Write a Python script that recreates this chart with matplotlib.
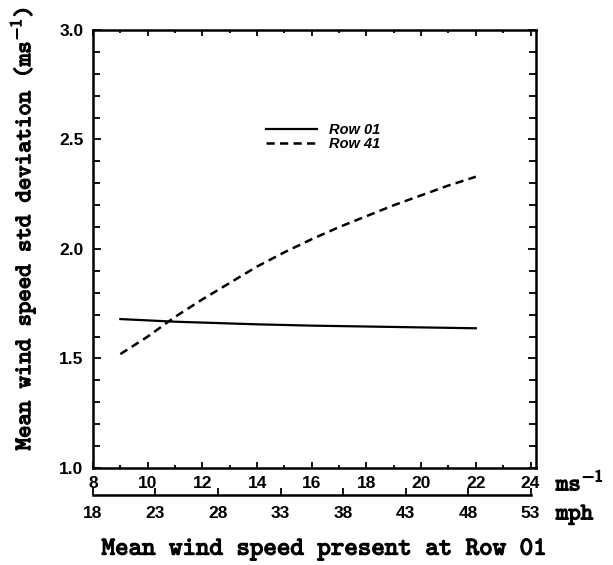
import matplotlib
matplotlib.use("Agg")
import matplotlib.pyplot as plt
import matplotlib.patheffects as pe
from matplotlib.ticker import MultipleLocator, FixedLocator
import numpy as np

# mean wind speed at Row 01 (m/s)
wind_ms = [9, 10, 11, 12, 13, 14, 15, 16, 17, 18, 19, 20, 21, 22]
# std deviation of wind speed (m/s)
row01 = [1.68, 1.674, 1.668, 1.664, 1.660, 1.656, 1.653, 1.650, 1.648,
         1.646, 1.644, 1.642, 1.640, 1.638]
row41 = [1.52, 1.60, 1.69, 1.77, 1.845, 1.92, 1.985, 2.045, 2.10,
         2.15, 2.20, 2.245, 2.29, 2.33]
mph_ticks = [18, 23, 28, 33, 38, 43, 48, 53]
ms_ticks = [8, 10, 12, 14, 16, 18, 20, 22, 24]

plt.rcParams["mathtext.fontset"] = "cm"

bold = [pe.withStroke(linewidth=0.9, foreground="k")]
tick_font = dict(family="Liberation Sans", size=12.5, weight="bold")


def ms_to_mph(x):
    # the chart lines 18 mph up with 8 m/s and 53 mph with 24 m/s
    return 18 + (np.asarray(x) - 8) * 35.0 / 16.0


def mph_to_ms(x):
    return 8 + (np.asarray(x) - 18) * 16.0 / 35.0


fig = plt.figure(figsize=(6.13, 5.65), dpi=100)
ax = fig.add_axes([0.1517, 0.1717, 0.7227, 0.7752])

ax.plot(wind_ms, row01, color="k", lw=1.6, label="Row 01")
ax.plot(wind_ms, row41, color="k", lw=1.8, linestyle=(0, (3.3, 2.1)), label="Row 41")

ax.set_xlim(8, 24.2)
ax.set_ylim(1.0, 3.0)

for s in ax.spines.values():
    s.set_linewidth(1.8)

ax.xaxis.set_major_locator(FixedLocator(ms_ticks))
ax.xaxis.set_minor_locator(MultipleLocator(1))
ax.yaxis.set_major_locator(MultipleLocator(0.5))
ax.yaxis.set_minor_locator(MultipleLocator(0.1))
ax.tick_params(axis="x", which="both", direction="in", top=True, width=1.3)
ax.tick_params(axis="x", which="major", length=4, pad=6)
ax.tick_params(axis="x", which="minor", length=2)
ax.tick_params(axis="y", which="both", direction="in", right=True, width=1.3)
ax.tick_params(axis="y", which="major", length=6, pad=7)
ax.tick_params(axis="y", which="minor", length=5)
ax.set_yticklabels(["%.1f" % v for v in ax.get_yticks()], **tick_font)
ax.set_xticklabels([str(v) for v in ms_ticks], **tick_font)

# second axis in mph
sec = ax.secondary_xaxis(-0.062, functions=(ms_to_mph, mph_to_ms))
sec.set_xticks(mph_ticks)
sec.set_xticklabels([str(v) for v in mph_ticks], **tick_font)
sec.tick_params(direction="in", length=5, width=1.3, pad=8)
sec.spines["bottom"].set_linewidth(1.8)
sec.spines["bottom"].set_bounds(18, 53)

ax.text(1.045, -0.036, r"ms$^{\mathbf{-1}}$", transform=ax.transAxes,
        ha="left", va="center", family="cmtt10", size=17, path_effects=bold)
ax.text(1.045, -0.107, "mph", transform=ax.transAxes,
        ha="left", va="center", family="cmtt10", size=17, path_effects=bold)

fig.text(0.529, 0.027, "Mean wind speed present at Row 01", ha="center",
         va="center", family="cmtt10", size=18.5, path_effects=bold)
fig.text(0.037, 0.595, r"Mean wind speed std deviation (ms$^{\mathbf{-1}}$)",
         rotation=90, ha="center", va="center", family="cmtt10", size=17,
         path_effects=bold)

leg = ax.legend(loc="upper left", bbox_to_anchor=(0.375, 0.805), frameon=False,
                handlelength=3.5, handletextpad=0.8, labelspacing=0.05,
                borderpad=0,
                prop=dict(family="Liberation Sans", size=10.5, weight="bold",
                          style="italic"))

fig.savefig("out.png", dpi=100)
